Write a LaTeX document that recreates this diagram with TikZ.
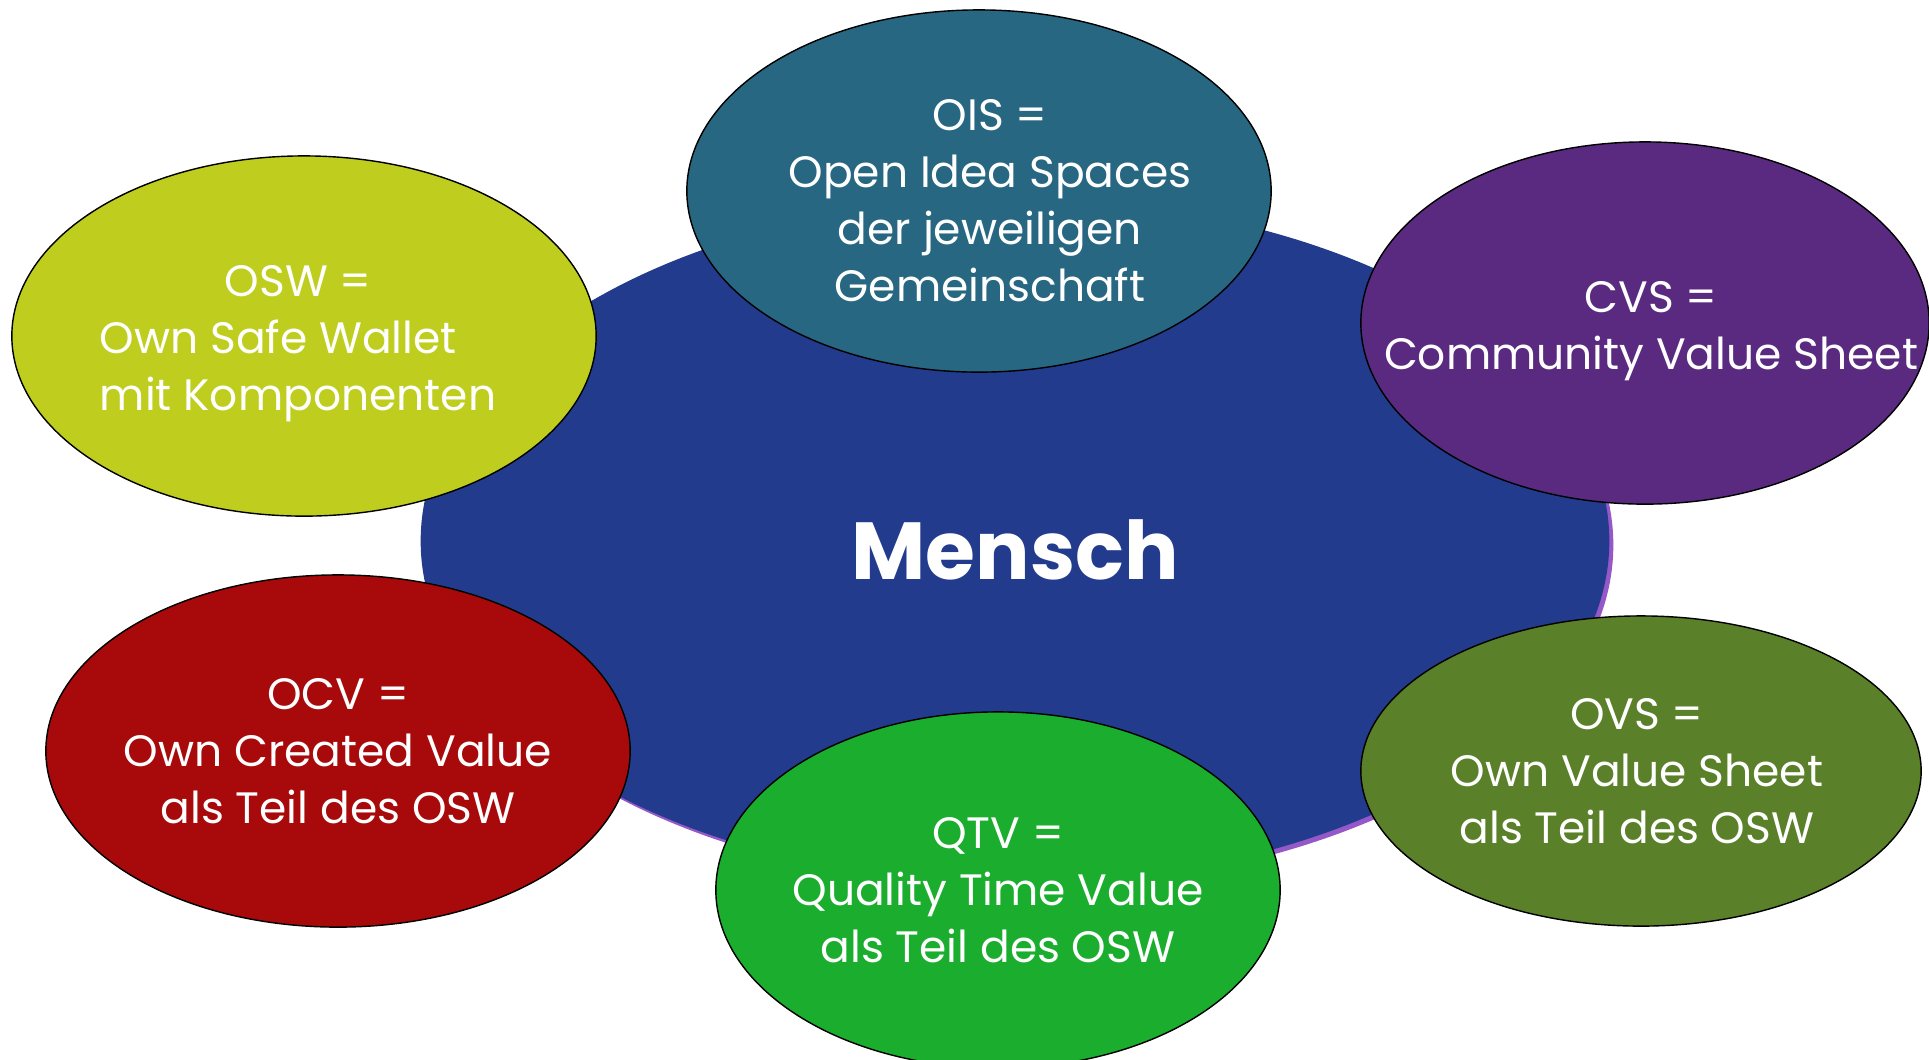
\documentclass[tikz,border=0pt]{standalone}
\usepackage{fontspec}
\setmainfont{Poppins}
\usetikzlibrary{shapes.geometric}

\definecolor{menschblue}{HTML}{223B8C}
\definecolor{menschrim}{HTML}{9558C8}
\definecolor{oisteal}{HTML}{276782}
\definecolor{cvspurple}{HTML}{5A2A80}
\definecolor{oswlime}{HTML}{BFCE1E}
\definecolor{ocvred}{HTML}{A8090A}
\definecolor{qtvgreen}{HTML}{1BAE2E}
\definecolor{ovsolive}{HTML}{5A8029}

\begin{document}
\begin{tikzpicture}[x=0.01cm, y=-0.01cm,
    bubble/.style={ellipse, draw=black, line width=0.4pt, inner sep=0pt},
    bubbletext/.style={text=white, align=center, font=\fontsize{12.5}{16.2}\selectfont}]
    \useasboundingbox (0,0) rectangle (1929,1059);
    % centre
    \node[ellipse, fill=menschrim, minimum width=11.88cm, minimum height=6.84cm] (rim) at (1019,545) {};
    \node[ellipse, fill=menschblue, minimum width=11.88cm, minimum height=6.84cm,
        label={[text=white, font=\bfseries\fontsize{23}{28}\selectfont, yshift=-0.09cm]center:Mensch}]
        (mensch) at (1015,541) {};
    % satellites
    \node[bubble, fill=oisteal, minimum width=5.84cm, minimum height=3.62cm,
        label={[bubbletext, xshift=0.11cm, yshift=-0.1cm]center:OIS =\\Open Idea Spaces\\der jeweiligen\\Gemeinschaft}]
        (ois) at (979,191) {};
    \node[bubble, fill=cvspurple, minimum width=5.68cm, minimum height=3.62cm,
        label={[bubbletext, xshift=0.06cm, yshift=-0.08cm]center:CVS =\\Community Value Sheet}]
        (cvs) at (1645,323) {};
    \node[bubble, fill=oswlime, minimum width=5.84cm, minimum height=3.6cm,
        label={[bubbletext, align=left, xshift=-0.06cm, yshift=-0.08cm]center:\hspace*{1.25cm}OSW =\\Own Safe Wallet\\mit Komponenten}]
        (osw) at (304,336) {};
    \node[bubble, fill=ocvred, minimum width=5.84cm, minimum height=3.52cm,
        label={[bubbletext]center:OCV =\\Own Created Value\\als Teil des OSW}]
        (ocv) at (338,751) {};
    \node[bubble, fill=qtvgreen, minimum width=5.64cm, minimum height=3.56cm,
        label={[bubbletext]center:QTV =\\Quality Time Value\\als Teil des OSW}]
        (qtv) at (998,890) {};
    \node[bubble, fill=ovsolive, minimum width=5.6cm, minimum height=3.1cm,
        label={[bubbletext, xshift=-0.04cm]center:OVS =\\Own Value Sheet\\als Teil des OSW}]
        (ovs) at (1641,771) {};
\end{tikzpicture}
\end{document}
